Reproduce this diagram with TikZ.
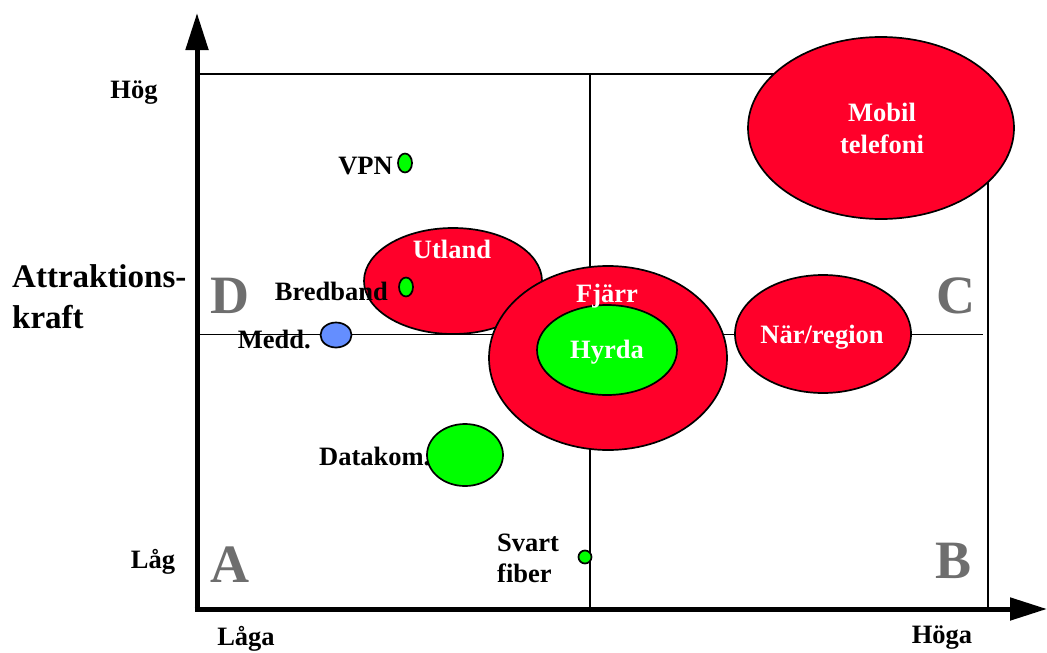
\documentclass[tikz,border=0pt]{standalone}
\usepackage{fontspec}
\setmainfont{Liberation Serif}
\usetikzlibrary{arrows.meta}
\definecolor{bubred}{RGB}{255,0,42}
\definecolor{bubgreen}{RGB}{0,255,0}
\definecolor{bubblue}{RGB}{100,142,255}
\definecolor{quadgray}{RGB}{110,110,110}
\begin{document}
\begin{tikzpicture}
    [ x=1pt, y=-1pt
    , grid/.style={line width=1.2pt}
    , axis/.style={line width=5pt, -{Triangle[length=37pt,width=22pt]}}
    , bubble/.style={draw, line width=1.7pt}
    , every node/.style={font=\bfseries\fontsize{26.5}{30}\selectfont, inner sep=0pt}
    , lbl/.style={anchor=base}
    , inlbl/.style={anchor=base, text=white}
    , quad/.style={anchor=base, text=quadgray, font=\bfseries\fontsize{54}{60}\selectfont}
    ]
    \useasboundingbox (0,0) rectangle (1047,653);
    % the four fields
    \draw [grid] (197,74) rectangle (988,609);
    \draw [grid] (590,74) -- (590,612);
    \draw [grid] (197,334.5) -- (983,334.5);
    \node (datakomlbl) [lbl, anchor=base west] at (319,465) {Datakom.};
    % bubbles
    \draw [bubble, fill=bubred]   (881,128) ellipse [x radius=133, y radius=91];
    \draw [bubble, fill=bubred]   (453,281) ellipse [x radius=89,  y radius=53];
    \draw [bubble, fill=bubred]   (608,358) ellipse [x radius=119, y radius=92];
    \draw [bubble, fill=bubgreen] (607,350) ellipse [x radius=70,  y radius=45];
    \draw [bubble, fill=bubred]   (823,334) ellipse [x radius=88,  y radius=59];
    \draw [bubble, fill=bubgreen] (465,455) ellipse [x radius=38,  y radius=31];
    \draw [bubble, fill=bubgreen] (405,163) ellipse [x radius=7,   y radius=9.5];
    \draw [bubble, fill=bubgreen] (406,287) ellipse [x radius=7,   y radius=9.5];
    \draw [bubble, fill=bubblue]  (336,335) ellipse [x radius=15.5, y radius=12.5];
    \draw [bubble, fill=bubgreen] (585,557) circle [radius=6.5];
    % axes
    \draw [axis] (197,611.5) -- (197,13);
    \draw [axis] (194.5,609) -- (1047,609);
    % texts
    \node (mobil)  [inlbl] at (882,121) {Mobil};
    \node (tele)   [inlbl] at (882,153) {telefoni};
    \node (utland) [inlbl] at (452,258) {Utland};
    \node (fjarr)  [inlbl] at (607,302) {Fjärr};
    \node (hyrda)  [inlbl] at (607,358) {Hyrda};
    \node (nar)    [inlbl] at (822,343) {När/region};
    \node (vpn)    [lbl, anchor=base east] at (393,174) {VPN};
    \node (bredb)  [lbl, anchor=base east] at (388,300) {Bredband};
    \node (medd)   [lbl, anchor=base east] at (311,348) {Medd.};
    \node (svart)  [lbl, anchor=base west] at (497,551) {Svart};
    \node (fiber)  [lbl, anchor=base west] at (497,582) {fiber};
    \node (qd) [quad] at (230,313) {D};
    \node (qc) [quad] at (956,313) {C};
    \node (qa) [quad] at (230,582) {A};
    \node (qb) [quad] at (953,578) {B};
    \node (hog)  [lbl] at (134,98)  {Hög};
    \node (lag)  [lbl] at (153,568) {Låg};
    \node (laga) [lbl] at (246,645) {Låga};
    \node (hoga) [lbl] at (942,643) {Höga};
    \node (attr)  [lbl, anchor=base west, font=\bfseries\fontsize{33}{36}\selectfont] at (12,287) {Attraktions-};
    \node (kraft) [lbl, anchor=base west, font=\bfseries\fontsize{33}{36}\selectfont] at (12,328) {kraft};
\end{tikzpicture}
\end{document}
